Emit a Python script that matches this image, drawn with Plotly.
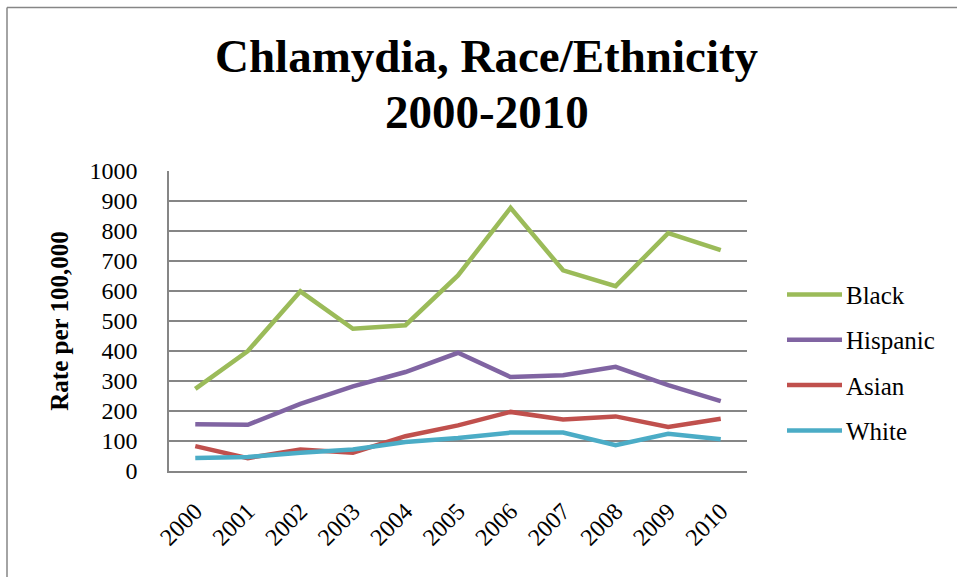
import plotly.graph_objects as go

years = ["2000", "2001", "2002", "2003", "2004", "2005",
         "2006", "2007", "2008", "2009", "2010"]

black = [274, 400, 599, 474, 486, 652, 877, 669, 616, 793, 736]
hispanic = [156, 154, 224, 282, 330, 394, 313, 319, 347, 286, 233]
asian = [83, 43, 72, 61, 116, 152, 197, 172, 182, 147, 174]
white = [43, 47, 61, 72, 97, 110, 128, 128, 86, 124, 106]

series = [
    ("Black", black, "#9BBB59"),
    ("Hispanic", hispanic, "#8064A2"),
    ("Asian", asian, "#C0504D"),
    ("White", white, "#4BACC6"),
]

FONT = "Liberation Serif, Times New Roman, serif"
GRID = "#868686"

fig = go.Figure()
for name, vals, color in series:
    fig.add_trace(go.Scatter(
        x=years, y=vals, name=name, mode="lines",
        line=dict(color=color, width=4.5),
        showlegend=False,
    ))

# plot area in pixels: x 169..747, y 171..471
L, R, T, B = 169, 747, 171, 471
W, H = 957, 577


def px(xp):
    return (xp - L) / (R - L)


def py(yp):
    return (B - yp) / (B - T)


# frame around the chart (top and left edges)
shapes = [
    dict(type="line", xref="paper", yref="paper",
         x0=px(7), x1=px(957), y0=py(7.5), y1=py(7.5),
         line=dict(color=GRID, width=1.5)),
    dict(type="line", xref="paper", yref="paper",
         x0=px(7), x1=px(7), y0=py(7.5), y1=py(577),
         line=dict(color=GRID, width=1.5)),
]

annotations = [
    dict(text="<b>Chlamydia, Race/Ethnicity</b>", xref="paper", yref="paper",
         x=px(486.5), y=py(56), xanchor="center", yanchor="middle",
         showarrow=False, font=dict(family=FONT, size=47, color="black")),
    dict(text="<b>2000-2010</b>", xref="paper", yref="paper",
         x=px(486.5), y=py(112), xanchor="center", yanchor="middle",
         showarrow=False, font=dict(family=FONT, size=47, color="black")),
]

# legend: a short line sample and the series name, one row per series
legend_top, legend_step = 294.5, 45.3
for i, (name, _, color) in enumerate(series):
    yrow = legend_top + i * legend_step
    shapes.append(dict(type="line", xref="paper", yref="paper",
                       x0=px(787), x1=px(842), y0=py(yrow), y1=py(yrow),
                       line=dict(color=color, width=4.5)))
    annotations.append(dict(text=name, xref="paper", yref="paper",
                            x=px(844), y=py(yrow + 1), xanchor="left",
                            yanchor="middle", showarrow=False,
                            font=dict(family=FONT, size=25, color="black")))

fig.update_layout(
    width=W, height=H,
    margin=dict(l=L, r=W - R, t=T, b=H - B, pad=0),
    paper_bgcolor="white", plot_bgcolor="white",
    font=dict(family=FONT, color="black", size=24),
    showlegend=False,
    xaxis=dict(
        type="category", range=[-0.5, 10.5],
        showgrid=False, showline=True, linecolor=GRID, linewidth=1.5,
        ticks="", tickangle=-45, ticklabelstandoff=15,
        tickfont=dict(family=FONT, size=24, color="black"),
        zeroline=False,
    ),
    yaxis=dict(
        range=[0, 1000], dtick=100, tick0=0,
        showgrid=True, gridcolor=GRID, gridwidth=1.5,
        showline=True, linecolor=GRID, linewidth=1.5,
        zeroline=False, ticks="", ticklabelstandoff=25,
        tickfont=dict(family=FONT, size=24, color="black"),
        title=dict(text="<b>Rate per 100,000</b>", standoff=14,
                   font=dict(family=FONT, size=25, color="black")),
    ),
    annotations=annotations,
    shapes=shapes,
)

fig.write_html("out.html")
